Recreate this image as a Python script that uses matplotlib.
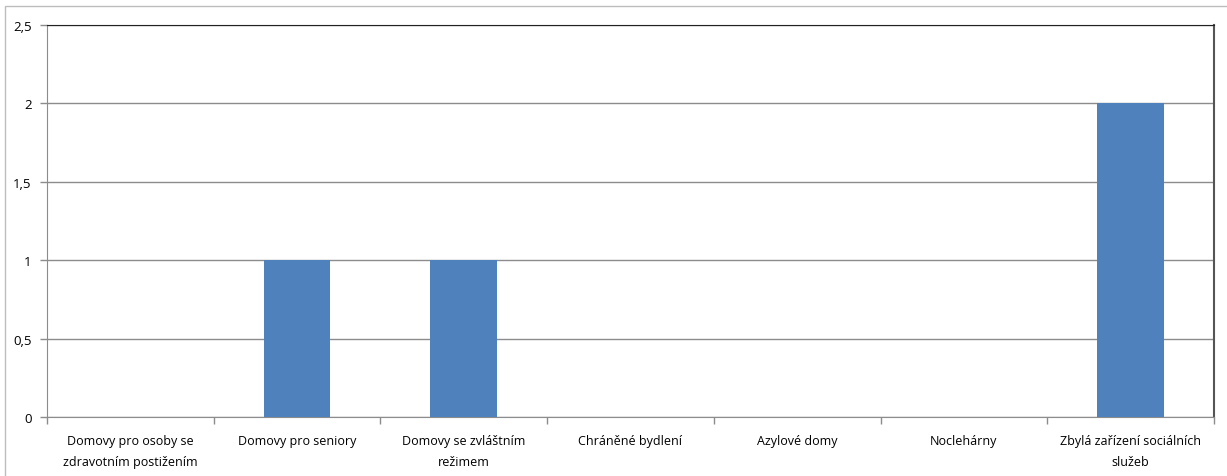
import matplotlib.pyplot as plt
from matplotlib.patches import Rectangle
from matplotlib.ticker import FixedLocator, FuncFormatter
import numpy as np

categories = [
    'Domovy pro osoby se\nzdravotním postižením',
    'Domovy pro seniory',
    'Domovy se zvláštním\nrežimem',
    'Chráněné bydlení',
    'Azylové domy',
    'Noclehárny',
    'Zbylá zařízení sociálních\nslužeb',
]
values = [0, 1, 1, 0, 0, 0, 2]

plt.rcParams['font.family'] = ['Open Sans', 'DejaVu Sans']

fig = plt.figure(figsize=(12.27, 4.77), dpi=100)
ax = fig.add_axes([47 / 1227, 1 - 418 / 477, (1214 - 47) / 1227, (418 - 26) / 477])

# outer chart-area frame
fig.patches.append(Rectangle((5 / 1227, -0.01), 1.02, 1 - 7 / 477 + 0.01,
                             transform=fig.transFigure, fill=False,
                             edgecolor='#bdbdbd', linewidth=1.0))

x = np.arange(len(categories))
ax.bar(x, values, width=0.4, color='#4F81BD', zorder=3)

ax.set_xlim(-0.5, len(categories) - 0.5)
ax.set_ylim(0, 2.5)
ax.set_yticks(np.arange(0, 2.51, 0.5))
ax.yaxis.set_major_formatter(FuncFormatter(lambda v, p: ('%g' % v).replace('.', ',')))
ax.grid(axis='y', color='#8c8c8c', linewidth=1.0, zorder=0)

# category labels centred, ticks on boundaries
ax.set_xticks(x)
ax.set_xticklabels(categories, fontsize=9, linespacing=1.8)
ax.tick_params(axis='x', which='major', length=0, pad=12)
ax.xaxis.set_minor_locator(FixedLocator(np.arange(-0.5, len(categories), 1.0)))
ax.tick_params(axis='x', which='minor', length=5, color='#8c8c8c', width=1)
ax.tick_params(axis='y', length=5, color='#8c8c8c', width=1, labelsize=9.5, pad=6)

ax.spines['left'].set_color('#8c8c8c')
ax.spines['bottom'].set_color('#8c8c8c')
ax.spines['top'].set_color('#222222')
ax.spines['right'].set_color('#555555')
ax.spines['right'].set_linewidth(1.5)

fig.savefig('out.png', dpi=100)
